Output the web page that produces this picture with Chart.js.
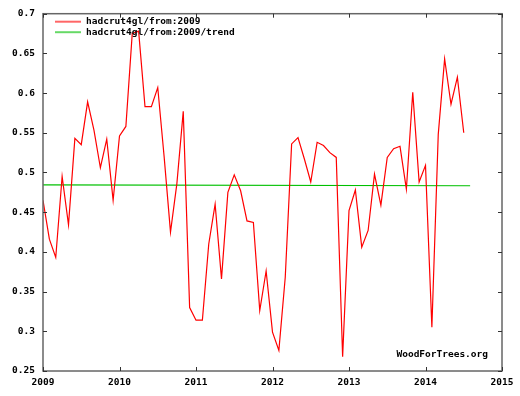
<!DOCTYPE html>
<html>
<head>
<meta charset="utf-8">
<script src="https://cdn.jsdelivr.net/npm/chart.js@4"></script>
<style>
  html, body { margin: 0; padding: 0; background: #fff; }
</style>
</head>
<body>
<canvas id="chart" width="520" height="396"></canvas>
<script>
// monthly anomalies, starting Jan 2009
const startYear = 2009;
const seriesLabel = 'hadcrut4gl/from:2009';
const trendLabel = 'hadcrut4gl/from:2009/trend';
const monthly = [
    0.465, 0.416, 0.393, 0.495, 0.434, 0.543, 0.535, 0.589, 0.553, 0.506, 0.542, 0.465,
    0.546, 0.558, 0.675, 0.678, 0.583, 0.583, 0.607, 0.520, 0.425, 0.486, 0.577, 0.330,
    0.314, 0.314, 0.410, 0.460, 0.366, 0.475, 0.497, 0.477, 0.439, 0.437, 0.326, 0.376,
    0.299, 0.276, 0.368, 0.536, 0.544, 0.517, 0.488, 0.538, 0.534, 0.525, 0.519, 0.268,
    0.452, 0.478, 0.406, 0.427, 0.498, 0.459, 0.519, 0.530, 0.533, 0.479, 0.601, 0.488,
    0.509, 0.305, 0.548, 0.643, 0.586, 0.620, 0.550
];
const trendX = [2009, 2014.583];
const trendY = [0.4845, 0.4833];
const xTicks = [2009, 2010, 2011, 2012, 2013, 2014, 2015];
const yTicks = [0.25, 0.3, 0.35, 0.4, 0.45, 0.5, 0.55, 0.6, 0.65, 0.7];
const yTickLabels = ['0.25', '0.3', '0.35', '0.4', '0.45', '0.5', '0.55', '0.6', '0.65', '0.7'];

const tickFont = { family: 'DejaVu Sans Mono', size: 9.5, weight: 'bold' };

// frame, inward ticks, legend and site label, gnuplot style
const framePlugin = {
    id: 'frame',
    afterDraw(chart) {
        const ctx = chart.ctx;
        const a = chart.chartArea;
        const xs = chart.scales.x, ys = chart.scales.y;
        ctx.save();
        ctx.strokeStyle = '#666';
        ctx.lineWidth = 1.5;
        ctx.strokeRect(a.left, a.top, a.right - a.left, a.bottom - a.top);

        ctx.lineWidth = 1;
        ctx.strokeStyle = '#333';
        ctx.beginPath();
        xs.ticks.forEach(t => {
            let px = Math.round(xs.getPixelForValue(t.value)) + 0.5;
            ctx.moveTo(px, a.bottom);
            ctx.lineTo(px, a.bottom - 4);
            ctx.moveTo(px, a.top);
            ctx.lineTo(px, a.top + 4);
        });
        ys.ticks.forEach(t => {
            let py = Math.round(ys.getPixelForValue(t.value)) + 0.5;
            ctx.moveTo(a.left, py);
            ctx.lineTo(a.left + 4, py);
            ctx.moveTo(a.right, py);
            ctx.lineTo(a.right - 4, py);
        });
        ctx.stroke();

        ctx.font = 'bold 9.5px "DejaVu Sans Mono"';
        ctx.textBaseline = 'middle';
        ctx.fillStyle = '#000';
        chart.data.datasets.forEach((ds, i) => {
            let y = a.top + 8 + i * 10.5;
            ctx.strokeStyle = ds.borderColor;
            ctx.globalAlpha = 0.6;
            ctx.lineWidth = 2;
            ctx.beginPath();
            ctx.moveTo(a.left + 12, y);
            ctx.lineTo(a.left + 38, y);
            ctx.stroke();
            ctx.globalAlpha = 1;
            ctx.fillText(ds.label, a.left + 43, y);
        });

        ctx.textAlign = 'right';
        ctx.fillText('WoodForTrees.org', a.right - 14, a.bottom - 16);
        ctx.restore();
    }
};

new Chart(document.getElementById('chart'), {
    type: 'line',
    data: {
        datasets: [{
            label: seriesLabel,
            data: monthly.map((v, i) => ({ x: startYear + i / 12, y: v })),
            borderColor: '#ff0000',
            borderWidth: 1.2,
            pointRadius: 0,
            tension: 0
        }, {
            label: trendLabel,
            data: trendX.map((x, i) => ({ x: x, y: trendY[i] })),
            borderColor: '#00c000',
            borderWidth: 1.2,
            pointRadius: 0,
            tension: 0
        }]
    },
    options: {
        responsive: false,
        animation: false,
        devicePixelRatio: 1,
        layout: { padding: { top: 13, right: 18, left: 0, bottom: 0 } },
        plugins: {
            legend: { display: false },
            tooltip: { enabled: false }
        },
        scales: {
            x: {
                type: 'linear',
                min: 2009,
                max: 2015,
                afterBuildTicks: s => { s.ticks = xTicks.map(v => ({ value: v })); },
                afterFit: s => { s.height = 25; },
                grid: { display: false, drawTicks: false },
                border: { display: false },
                ticks: {
                    font: tickFont,
                    color: '#000',
                    padding: 6,
                    maxRotation: 0,
                    callback: v => String(v)
                }
            },
            y: {
                min: 0.25,
                max: 0.7,
                afterBuildTicks: s => { s.ticks = yTicks.map(v => ({ value: v })); },
                afterFit: s => { s.width = 43; },
                grid: { display: false, drawTicks: false },
                border: { display: false },
                ticks: {
                    font: tickFont,
                    color: '#000',
                    padding: 8,
                    callback: v => yTickLabels[yTicks.indexOf(v)]
                }
            }
        }
    },
    plugins: [framePlugin]
});
</script>
</body>
</html>
